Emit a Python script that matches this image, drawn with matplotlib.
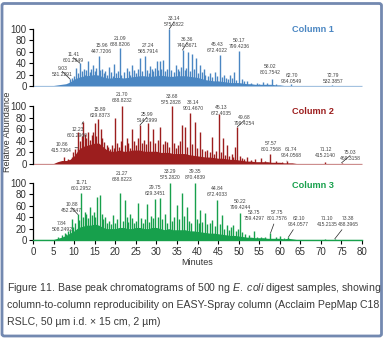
import numpy as np
import matplotlib.pyplot as plt
from matplotlib.patches import FancyBboxPatch

plt.rcParams['font.family'] = ['Liberation Sans', 'DejaVu Sans']
plt.rcParams['mathtext.fontset'] = 'custom'
plt.rcParams['mathtext.rm'] = 'Liberation Sans'
plt.rcParams['mathtext.it'] = 'Liberation Sans:italic'

minutes = np.arange(0, 81)

# column 1 ------------------------------------------------------------
c1_base = [1, 1, 1, 1, 1, 1, 2, 3, 4, 7, 12, 15, 17, 18, 19, 20, 19, 16, 14, 14,
           15, 15, 14, 15, 16, 17, 18, 18, 17, 17, 18, 19, 18, 17, 17, 18, 18, 18, 17, 16,
           15, 13, 11, 10, 9, 9, 8, 7, 6, 6, 6, 5, 4, 4, 3, 3, 3, 3, 3, 2,
           2, 1, 1, 1, 1, 1, 1, 1, 1, 1, 1, 1, 1, 1, 1, 1, 1, 1, 1, 1, 1]
c1_peak_t = [9.03, 10.5, 11.41, 12.3, 13.4, 14.6, 15.96, 16.8, 18.5, 19.7, 21.09, 22.8,
             24.0, 26.0, 27.24, 28.5, 30.1, 30.9, 31.6, 33.14, 34.8, 36.36, 37.7, 38.6,
             39.7, 40.6, 41.5, 43.1, 44.3, 45.43, 46.5, 47.9, 48.9, 50.17, 52.0, 54.5,
             56.0, 58.02, 62.70, 72.79]
c1_peak_h = [12, 31, 40, 30, 43, 37, 52, 30, 33, 38, 66, 31,
             37, 49, 53, 35, 44, 43, 46, 100, 37, 63, 59, 56,
             49, 37, 30, 22, 25, 55, 20, 19, 25, 62, 8, 6,
             7, 12, 3, 2]
c1_minor_t = [9.5, 10.0, 10.9, 11.8, 12.7, 13.0, 13.9, 14.2, 15.0, 15.4, 16.3, 17.2, 17.6,
              18.0, 19.0, 19.4, 20.2, 20.6, 21.5, 22.2, 23.3, 23.7, 24.5, 25.0, 25.5, 26.5,
              27.8, 28.1, 28.9, 29.3, 29.7, 30.5, 31.2, 32.0, 32.5, 33.6, 34.2, 35.2, 35.6,
              36.0, 36.9, 37.3, 38.1, 39.2, 40.1, 41.0, 41.9, 42.5, 43.6, 44.8, 45.9, 46.9,
              47.4, 48.4, 49.4, 50.8, 51.4, 53.0, 55.0, 57.0, 59.0]
c1_minor_h = [14, 18, 22, 26, 20, 28, 24, 30, 27, 32, 28, 22, 26,
              20, 24, 18, 22, 26, 20, 24, 26, 20, 28, 22, 30, 26,
              28, 22, 30, 26, 32, 28, 30, 26, 30, 28, 24, 30, 26,
              34, 28, 32, 26, 30, 22, 24, 20, 18, 16, 18, 16, 14,
              12, 14, 10, 12, 8, 5, 4, 5, 3]
c1_labels = ['9.03\n531.2291', '11.41\n601.2949', '15.96\n447.7206', '21.09\n688.8206',
             '27.24\n565.7914', '33.14\n575.2822', '36.36\n740.3671', '45.43\n672.4022',
             '50.17\n799.4236', '58.02\n801.7542', '62.70\n964.0549', '72.79\n532.3857']
c1_label_t = [9.03, 11.41, 15.96, 21.09, 27.24, 33.14, 36.36, 45.43, 50.17, 58.02, 62.70, 72.79]
c1_label_h = [12, 40, 52, 66, 53, 100, 63, 55, 62, 12, 3, 2]

# column 2 ------------------------------------------------------------
c2_base = [1, 1, 1, 1, 1, 1, 4, 6, 6, 8, 14, 24, 30, 32, 34, 36, 36, 30, 24, 22,
           22, 24, 22, 22, 24, 24, 24, 22, 22, 22, 22, 20, 20, 20, 18, 18, 18, 18, 16, 15,
           14, 13, 12, 12, 11, 10, 10, 9, 8, 8, 7, 6, 5, 5, 4, 4, 4, 4, 3, 3,
           3, 2, 2, 2, 1, 1, 1, 1, 1, 1, 1, 1, 1, 1, 1, 1, 1, 1, 1, 1, 1]
c2_peak_t = [7.5, 8.5, 9.5, 10.86, 11.0, 12.23, 13.4, 14.3, 15.0, 15.89, 17.9, 20.0,
             21.70, 22.8, 24.0, 25.99, 28.0, 29.2, 30.9, 32.5, 33.68, 36.2, 37.0, 38.14,
             39.4, 40.6, 43.5, 45.13, 46.3, 47.1, 49.1, 49.68, 52.0, 54.0, 55.5, 57.57,
             61.74, 71.12, 75.03]
c2_peak_h = [12, 8, 12, 28, 55, 73, 56, 50, 70, 77, 33, 80,
             100, 44, 61, 67, 70, 61, 64, 38, 100, 68, 64, 88,
             73, 56, 47, 87, 44, 33, 30, 64, 12, 8, 10, 18,
             5, 3, 2]
c2_minor_t = [9.8, 10.3, 11.5, 11.8, 12.7, 13.0, 13.8, 14.6, 15.2, 16.5, 16.8, 17.3, 18.3,
              18.7, 19.2, 19.6, 20.4, 21.0, 21.3, 22.3, 23.2, 23.6, 24.5, 25.0, 25.5, 26.5,
              27.0, 27.5, 28.5, 29.7, 30.3, 31.5, 32.0, 33.0, 34.3, 34.8, 35.3, 35.8, 37.5,
              38.6, 39.9, 41.2, 41.8, 42.4, 43.0, 44.0, 44.6, 45.7, 46.8, 47.6, 48.3, 48.7,
              50.3, 50.8, 51.4, 53.0, 56.5, 59.0, 60.5]
c2_minor_h = [20, 25, 40, 48, 52, 45, 42, 55, 48, 60, 45, 38, 30,
              26, 32, 28, 36, 30, 40, 32, 36, 28, 40, 32, 44, 36,
              42, 34, 40, 36, 42, 34, 40, 30, 36, 28, 32, 40, 30,
              34, 28, 26, 22, 24, 20, 18, 22, 20, 16, 14, 18, 12,
              14, 10, 9, 7, 6, 5, 4]
c2_labels = ['10.86\n415.7364', '12.23\n601.2960', '15.89\n629.8373', '21.70\n688.8232',
             '25.99\n514.2999', '33.68\n575.2828', '38.14\n901.4670', '45.13\n672.4035',
             '49.68\n799.4254', '57.57\n801.7568', '61.74\n964.0568', '71.12\n415.2140',
             '75.03\n469.3158']
c2_label_t = [10.86, 12.23, 15.89, 21.70, 25.99, 33.68, 38.14, 45.13, 49.68, 57.57, 61.74, 71.12, 75.03]
c2_label_h = [28, 73, 77, 100, 67, 100, 88, 87, 64, 18, 5, 3, 2]

# column 3 ------------------------------------------------------------
c3_base = [1, 1, 1, 1, 1, 1, 3, 5, 8, 12, 16, 22, 24, 26, 26, 28, 26, 22, 20, 20,
           20, 22, 22, 20, 20, 22, 22, 20, 20, 22, 22, 20, 18, 20, 18, 18, 18, 18, 16, 16,
           15, 14, 13, 12, 12, 11, 10, 9, 8, 8, 7, 6, 5, 5, 4, 4, 4, 3, 3, 3,
           3, 2, 3, 2, 1, 1, 1, 1, 1, 1, 1, 1, 1, 1, 1, 1, 1, 1, 1, 1, 1]
c3_peak_t = [6.0, 7.0, 7.84, 8.5, 9.4, 10.88, 11.71, 12.7, 13.9, 15.5, 16.3, 17.5,
             19.5, 21.27, 22.4, 23.5, 25.6, 27.7, 28.7, 29.75, 30.9, 32.0, 33.29, 35.0,
             36.2, 37.4, 39.35, 40.6, 41.8, 43.5, 44.84, 45.9, 47.1, 48.7, 50.22, 51.5,
             53.75, 55.5, 57.75, 60.1, 62.10, 71.10, 73.38]
c3_peak_h = [6, 8, 12, 16, 36, 45, 83, 50, 58, 76, 79, 40,
             44, 83, 70, 45, 65, 64, 42, 72, 73, 45, 100, 61,
             82, 58, 100, 53, 47, 35, 70, 44, 26, 26, 47, 10,
             15, 6, 12, 7, 5, 2, 2]
c3_minor_t = [8.0, 9.0, 9.8, 10.3, 11.2, 12.2, 13.0, 13.4, 14.3, 14.8, 15.1, 16.8, 17.1,
              18.0, 18.5, 19.0, 20.0, 20.5, 21.8, 22.8, 23.1, 24.0, 24.5, 25.0, 26.2, 26.8,
              27.3, 28.2, 29.2, 30.4, 31.4, 32.5, 33.8, 34.3, 35.5, 36.7, 37.9, 38.5, 39.9,
              40.3, 41.2, 42.3, 43.0, 44.2, 45.4, 46.4, 47.6, 48.2, 49.3, 49.8, 50.8, 52.5,
              54.5, 56.5, 59.0, 61.0]
c3_minor_h = [10, 18, 22, 30, 35, 40, 45, 38, 44, 50, 40, 45, 36,
              30, 34, 28, 30, 36, 34, 40, 32, 38, 30, 34, 38, 30,
              36, 32, 38, 40, 36, 30, 34, 40, 36, 42, 34, 30, 36,
              30, 32, 28, 30, 24, 28, 20, 18, 22, 16, 20, 14, 8,
              6, 5, 5, 3]
c3_labels = ['7.84\n508.2492', '10.88\n452.2047', '11.71\n601.2952', '21.27\n688.8223',
             '29.75\n629.3451', '33.29\n575.2820', '39.35\n870.4839', '44.84\n672.4033',
             '50.22\n799.4244', '53.75\n759.4297', '57.75\n801.7576', '62.10\n964.0577',
             '71.10\n415.2135', '73.38\n488.3965']
c3_label_t = [7.84, 10.88, 11.71, 21.27, 29.75, 33.29, 39.35, 44.84, 50.22, 53.75, 57.75, 62.10, 71.10, 73.38]
c3_label_h = [12, 45, 83, 83, 72, 100, 100, 70, 47, 15, 12, 5, 2, 2]

# where each label's text sits (minutes, % abundance of the text bottom)
c1_text_xy = [(7.1, 16), (9.8, 40), (16.7, 56), (21.2, 68), (28.0, 56), (34.3, 103),
              (37.5, 67), (44.7, 58), (50.2, 65), (57.7, 19), (62.9, 4), (72.9, 4)]
c2_text_xy = [(7.0, 19), (10.8, 45), (16.3, 79), (21.7, 105), (27.7, 71), (33.7, 102),
              (38.9, 91), (45.7, 83), (51.4, 66), (57.8, 21), (62.8, 10), (71.2, 10), (77.1, 5)]
c3_text_xy = [(7.0, 14), (9.4, 47), (11.8, 86), (21.6, 102), (29.7, 77), (33.3, 105),
              (39.4, 105), (44.9, 75), (50.4, 53), (53.8, 33), (59.3, 33), (64.6, 23),
              (71.5, 23), (76.7, 23)]

columns = [
    ('Column 1', '#4a86c2', c1_base, c1_peak_t, c1_peak_h, c1_minor_t, c1_minor_h,
     c1_labels, c1_label_t, c1_label_h, c1_text_xy),
    ('Column 2', '#9c1e1e', c2_base, c2_peak_t, c2_peak_h, c2_minor_t, c2_minor_h,
     c2_labels, c2_label_t, c2_label_h, c2_text_xy),
    ('Column 3', '#17a04c', c3_base, c3_peak_t, c3_peak_h, c3_minor_t, c3_minor_h,
     c3_labels, c3_label_t, c3_label_h, c3_text_xy),
]

W, H = 384, 339
fig = plt.figure(figsize=(W / 100, H / 100), dpi=100)
fig.patch.set_facecolor('white')

x0, x1 = 33 / W, 362 / W
panel_px = [(29, 86), (106, 164), (183, 240)]
name_y = [1.0, 0.91, 0.95]
grey = '#333333'

for i, (name, col, base, pt, ph, mt, mh, labs, lt, lh, txy) in enumerate(columns):
    top, bot = panel_px[i]
    ax = fig.add_axes([x0, 1 - bot / H, x1 - x0, (bot - top) / H])
    ax.fill_between(minutes, base, color=col, lw=0)
    ax.vlines(mt, 0, mh, color=col, lw=1.0)
    ax.vlines(pt, 0, ph, color=col, lw=1.0)
    ax.set_xlim(0, 80)
    ax.set_ylim(0, 100)
    ax.set_yticks([0, 20, 40, 60, 80, 100])
    ax.tick_params(axis='y', labelsize=7, length=3, width=0.8, pad=1.5, colors='black',
                   labelcolor=grey)
    for s in ['top', 'right']:
        ax.spines[s].set_visible(False)
    ax.spines['left'].set_linewidth(0.9)
    if i < 2:
        ax.spines['bottom'].set_visible(False)
        ax.set_xticks([])
    else:
        ax.spines['bottom'].set_color(col)
        ax.spines['bottom'].set_linewidth(1.0)
        ax.set_xticks(np.arange(0, 81, 5))
        ax.tick_params(axis='x', labelsize=7, length=3, width=0.8, pad=2,
                       labelcolor=grey)
        ax.set_xlabel('Minutes', fontsize=6.5, color=grey, labelpad=1)
    for lab, t, h, (tx, ty) in zip(labs, lt, lh, txy):
        ax.annotate(lab, xy=(t, h), xytext=(tx, ty), textcoords='data',
                    ha='center', va='bottom', fontsize=3.6, color='#444444',
                    linespacing=1.25, annotation_clip=False,
                    arrowprops=dict(arrowstyle='-', lw=0.5, color='#222222',
                                    shrinkA=0, shrinkB=0)
                    if abs(tx - t) > 1.0 else None)
    ax.text(0.851, name_y[i], name, transform=ax.transAxes, ha='center', va='center',
            fontsize=6.6, fontweight='bold', color=col)
    if i == 1:
        ax.set_ylabel('Relative Abundance', fontsize=6.5, color=grey)
        ax.yaxis.set_label_coords(-21 / 329, 0.55)

caption = ['Figure 11. Base peak chromatograms of 500 ng $E.\\ coli$ digest samples, showing',
           'column-to-column reproducibility on EASY-Spray column (Acclaim PepMap C18',
           'RSLC, 50 µm i.d. × 15 cm, 2 µm)']
for k, line in enumerate(caption):
    fig.text(7 / W, 1 - (288 + 17 * k) / H, line, ha='left', va='center',
             fontsize=7.55, color='#3a3a3a')

frame = FancyBboxPatch((2 / W, 3 / H), 379.5 / W, 332.5 / H,
                       boxstyle='round,pad=0,rounding_size=0.006',
                       transform=fig.transFigure, fill=False,
                       edgecolor='#7389b0', lw=2.0)
fig.patches.append(frame)

fig.savefig('out.png', dpi=100)
